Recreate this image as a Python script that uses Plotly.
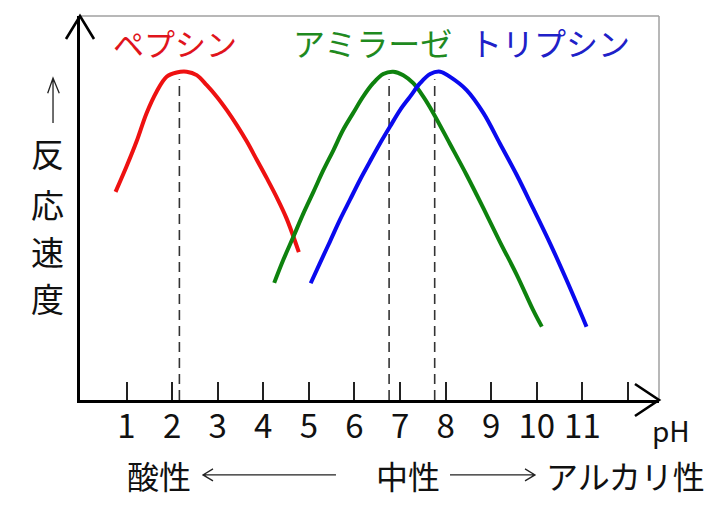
import plotly.graph_objects as go

# ---- data ----
pepsin_ph = [0.76, 1.00, 1.22, 1.44, 1.66, 1.88, 2.10, 2.32, 2.54, 2.76, 2.98, 3.20,
             3.42, 3.64, 3.86, 4.08, 4.29, 4.51, 4.78]
pepsin_rate = [54.2, 60.8, 67.3, 74.7, 80.3, 84.2, 85.3, 85.5, 84.6, 82.0, 79.0, 75.5,
               71.6, 67.3, 62.5, 57.7, 52.9, 47.3, 38.5]

amylase_ph = [4.24, 4.44, 4.66, 4.88, 5.10, 5.32, 5.54, 5.75, 5.97, 6.19, 6.41, 6.63,
              6.85, 7.07, 7.29, 7.51, 7.73, 8.09, 8.46, 8.83, 9.19, 9.56, 9.92, 10.11]
amylase_rate = [30.5, 36.5, 42.5, 48.6, 54.2, 59.9, 65.1, 70.3, 74.7, 79.0, 82.5, 84.9,
                85.5, 84.6, 82.5, 79.0, 74.7, 66.8, 58.6, 49.9, 41.2, 32.6, 23.4, 19.1]

trypsin_ph = [5.04, 5.24, 5.46, 5.68, 5.90, 6.12, 6.34, 6.56, 6.78, 7.00, 7.22, 7.44,
              7.66, 7.88, 8.09, 8.46, 8.83, 9.19, 9.56, 9.92, 10.29, 10.65, 11.09]
trypsin_rate = [30.4, 35.6, 41.2, 46.9, 52.1, 57.3, 62.1, 66.8, 71.2, 75.5, 79.0, 82.5,
                84.9, 85.5, 84.2, 80.7, 74.7, 66.8, 58.6, 49.9, 40.8, 31.3, 19.1]

optimum_ph = [2.16, 6.76, 7.76]
optimum_top = [83.5, 83.5, 83.5]

enzyme_names = ["ペプシン", "アミラーゼ", "トリプシン"]
enzyme_colors = ["#ee1111", "#0e820e", "#0a0aee"]
text_colors = ["#e0141c", "#1f8a1f", "#2020c8"]

tick_vals = [1, 2, 3, 4, 5, 6, 7, 8, 9, 10, 11, 12]
tick_text = ["1", "2", "3", "4", "5", "6", "7", "8", "9", "10", "11", ""]

FONT = "Noto Sans CJK JP"

fig = go.Figure()

# dashed optimum lines
for ph, top in zip(optimum_ph, optimum_top):
    fig.add_trace(go.Scatter(x=[ph, ph], y=[0, top], mode="lines",
                             line=dict(color="#333333", width=1.6, dash="10px,6px"),
                             hoverinfo="skip", showlegend=False))

for xs, ys, col in [(pepsin_ph, pepsin_rate, enzyme_colors[0]),
                    (amylase_ph, amylase_rate, enzyme_colors[1]),
                    (trypsin_ph, trypsin_rate, enzyme_colors[2])]:
    fig.add_trace(go.Scatter(x=xs, y=ys, mode="lines",
                             line=dict(color=col, width=4, shape="spline", smoothing=1.0),
                             showlegend=False))

shapes = []
# gray frame top & right
shapes.append(dict(type="line", xref="paper", yref="paper", x0=0, y0=1, x1=1, y1=1,
                   line=dict(color="#a0a0a0", width=1.5)))
shapes.append(dict(type="line", xref="paper", yref="paper", x0=1, y0=1, x1=1, y1=0,
                   line=dict(color="#a0a0a0", width=1.5)))
# axis arrowheads
shapes.append(dict(type="path", xref="paper", yref="paper",
                   path="M 0.9585,0.0417 L 1.0,0 L 0.9585,-0.0417",
                   line=dict(color="black", width=2.6)))
shapes.append(dict(type="path", xref="paper", yref="paper",
                   path="M -0.0242,0.940 L 0,1.0 L 0.0242,0.940",
                   line=dict(color="black", width=2.6)))
# up arrow next to y label
shapes.append(dict(type="path", xref="paper", yref="paper",
                   path="M -0.0466,0.7214 L -0.0466,0.8385 M -0.0558,0.7987 L -0.0466,0.8385 L -0.0358,0.7987",
                   line=dict(color="#222222", width=1.3)))
# bottom arrows
yb = -0.195
shapes.append(dict(type="path", xref="paper", yref="paper",
                   path=f"M 0.4421,{yb} L 0.2124,{yb} M 0.2297,{yb+0.0156} L 0.2124,{yb} L 0.2297,{yb-0.0156}",
                   line=dict(color="#222222", width=1.3)))
shapes.append(dict(type="path", xref="paper", yref="paper",
                   path=f"M 0.6390,{yb} L 0.7858,{yb} M 0.7686,{yb+0.0156} L 0.7858,{yb} L 0.7686,{yb-0.0156}",
                   line=dict(color="#222222", width=1.3)))

annotations = []
for name, col, xc, sz in zip(enzyme_names, text_colors, [0.164, 0.506, 0.8117], [31, 32, 32]):
    annotations.append(dict(text=name, xref="paper", yref="paper", x=xc, y=0.932,
                            showarrow=False, xanchor="center", yanchor="middle",
                            font=dict(family=FONT, size=sz, color=col)))
for ch, yc in zip("反応速度", [0.6436, 0.510, 0.3876, 0.266]):
    annotations.append(dict(text=ch, xref="paper", yref="paper", x=-0.0553, y=yc,
                            showarrow=False, xanchor="center", yanchor="middle",
                            font=dict(family=FONT, size=33, color="#111111")))
for t, xc in [("酸性", 0.1364), ("中性", 0.5665), ("アルカリ性", 0.943)]:
    annotations.append(dict(text=t, xref="paper", yref="paper", x=xc, y=yb,
                            showarrow=False, xanchor="center", yanchor="middle",
                            font=dict(family=FONT, size=32, color="#111111")))
annotations.append(dict(text="pH", xref="paper", yref="paper", x=1.0207, y=-0.078,
                        showarrow=False, xanchor="center", yanchor="middle",
                        font=dict(family=FONT, size=28, color="#111111")))

fig.update_layout(
    width=724, height=512,
    margin=dict(l=72, r=73, t=8, b=120),
    paper_bgcolor="white", plot_bgcolor="white",
    shapes=shapes, annotations=annotations,
    xaxis=dict(range=[-0.02, 12.68], showgrid=False, zeroline=False,
               showline=True, linecolor="black", linewidth=2.6,
               ticks="inside", ticklen=18, tickwidth=1.5, tickcolor="#222222",
               tickmode="array", tickvals=tick_vals, ticktext=tick_text,
               ticklabelstandoff=-4,
               tickfont=dict(family=FONT, size=33, color="#111111")),
    yaxis=dict(range=[0, 100], showgrid=False, zeroline=False,
               showline=True, linecolor="black", linewidth=2.6,
               ticks="", showticklabels=False),
    showlegend=False,
)

fig.write_html("out.html")
